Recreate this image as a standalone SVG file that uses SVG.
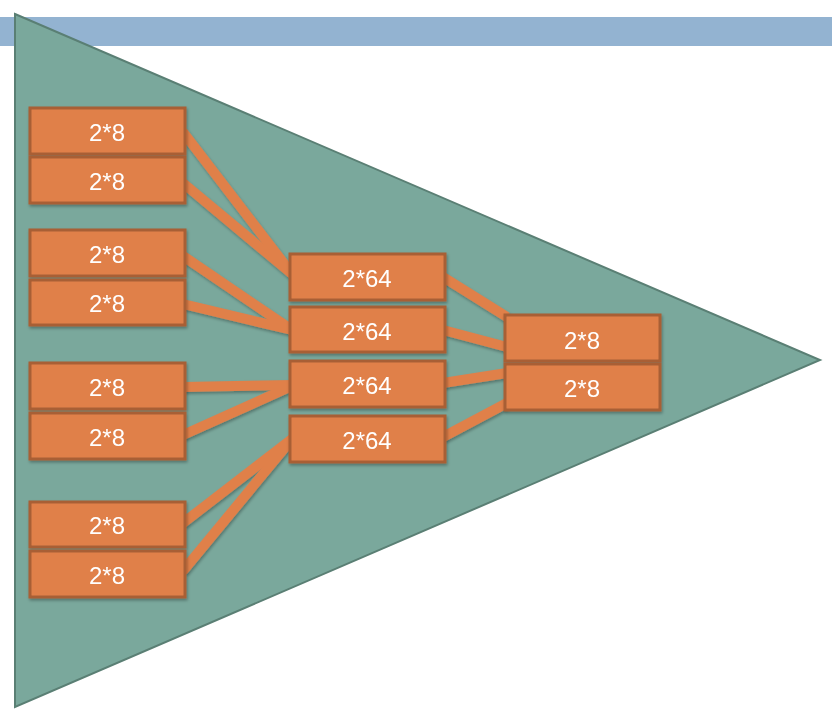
<svg xmlns="http://www.w3.org/2000/svg" width="832" height="715" viewBox="0 0 832 715">
<style>
.box{fill:#e0804a;stroke:#a85e35;stroke-width:3}
.lbl{fill:#ffffff;font-family:"Liberation Sans",Arial,sans-serif;font-size:24px;text-anchor:middle;dominant-baseline:central}
.con{stroke:#e0804a;stroke-width:10;stroke-linecap:butt;fill:none}
</style>
<defs>
<filter id="sh" x="-10%" y="-10%" width="120%" height="130%">
<feDropShadow dx="1" dy="2" stdDeviation="1.5" flood-color="#000" flood-opacity="0.3"/>
</filter>
</defs>
<rect x="0" y="17" width="832" height="29" fill="#93b3d1"/>
<polygon points="15,14 820,360 15,707" fill="#7aa89c" stroke="#5a7f74" stroke-width="2"/>
<g id="connectors" filter="url(#sh)">
<line class="con" x1="183" y1="132" x2="292" y2="274"/>
<line class="con" x1="183" y1="183" x2="292" y2="274"/>
<line class="con" x1="183" y1="256" x2="292" y2="330"/>
<line class="con" x1="183" y1="304" x2="292" y2="330"/>
<line class="con" x1="183" y1="387" x2="292" y2="385"/>
<line class="con" x1="183" y1="435" x2="292" y2="386"/>
<line class="con" x1="183" y1="523" x2="292" y2="439"/>
<line class="con" x1="183" y1="571" x2="292" y2="439"/>
<line class="con" x1="443" y1="277" x2="507" y2="317"/>
<line class="con" x1="443" y1="330" x2="507" y2="347"/>
<line class="con" x1="443" y1="383" x2="507" y2="373"/>
<line class="con" x1="443" y1="437" x2="507" y2="403"/>
</g>
<g filter="url(#sh)">
<g id="l1"><rect class="box" x="30" y="108" width="155" height="46"/><text class="lbl" x="107" y="132">2*8</text></g>
<g id="l2"><rect class="box" x="30" y="157" width="155" height="46"/><text class="lbl" x="107" y="181">2*8</text></g>
<g id="l3"><rect class="box" x="30" y="230" width="155" height="46"/><text class="lbl" x="107" y="254">2*8</text></g>
<g id="l4"><rect class="box" x="30" y="280" width="155" height="45"/><text class="lbl" x="107" y="303">2*8</text></g>
<g id="l5"><rect class="box" x="30" y="363" width="155" height="46"/><text class="lbl" x="107" y="387">2*8</text></g>
<g id="l6"><rect class="box" x="30" y="413" width="155" height="46"/><text class="lbl" x="107" y="437">2*8</text></g>
<g id="l7"><rect class="box" x="30" y="502" width="155" height="45"/><text class="lbl" x="107" y="525">2*8</text></g>
<g id="l8"><rect class="box" x="30" y="551" width="155" height="46"/><text class="lbl" x="107" y="575">2*8</text></g>
<g id="m1"><rect class="box" x="290" y="254" width="155" height="46"/><text class="lbl" x="367" y="278">2*64</text></g>
<g id="m2"><rect class="box" x="290" y="307" width="155" height="45"/><text class="lbl" x="367" y="331">2*64</text></g>
<g id="m3"><rect class="box" x="290" y="361" width="155" height="46"/><text class="lbl" x="367" y="385">2*64</text></g>
<g id="m4"><rect class="box" x="290" y="416" width="155" height="46"/><text class="lbl" x="367" y="440">2*64</text></g>
<g id="r1"><rect class="box" x="505" y="315" width="155" height="46"/><text class="lbl" x="582" y="340">2*8</text></g>
<g id="r2"><rect class="box" x="505" y="364" width="155" height="46"/><text class="lbl" x="582" y="388">2*8</text></g>
</g>
</svg>
